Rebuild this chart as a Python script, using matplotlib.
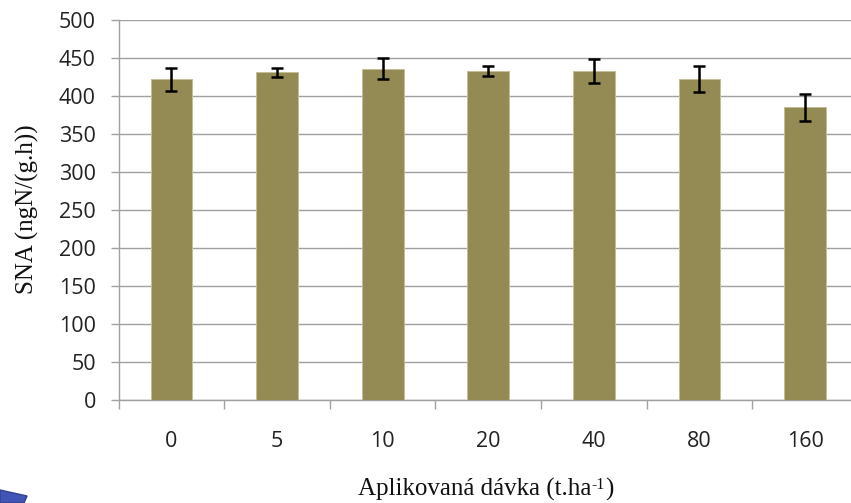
import matplotlib
matplotlib.use("Agg")
import matplotlib.pyplot as plt
from matplotlib.patches import Polygon

doses = ['0', '5', '10', '20', '40', '80', '160']
sna = [422, 431, 436, 433, 433, 422, 385]
err = [15, 5.5, 14, 6.5, 16, 17, 18]
y_ticks = [0, 50, 100, 150, 200, 250, 300, 350, 400, 450, 500]

W, H = 851, 503
BAR = '#948B54'
GREY = '#A0A0A0'

fig = plt.figure(figsize=(W / 100, H / 100), dpi=100)
ax = fig.add_axes([118.7 / W, 1 - 400 / H, (W - 118.7) / W, 380 / H])

x = list(range(len(doses)))
ax.bar(x, sna, width=0.395, color=BAR, edgecolor='#C4BE96', linewidth=0.7, zorder=3)
ax.errorbar(x, sna, yerr=err, fmt='none', ecolor='black', elinewidth=1.8,
            capsize=4.3, capthick=1.8, zorder=4)

ax.set_xlim(-0.5, 6.435)
ax.set_ylim(0, 500)
ax.set_yticks(y_ticks)
ax.set_xticks(x)
ax.set_xticklabels(doses)
ax.set_xticks([i - 0.5 for i in range(7)], minor=True)
ax.grid(True, axis='y', color=GREY, linewidth=1.0, zorder=0)
ax.set_axisbelow(True)

for s in ['top', 'right']:
    ax.spines[s].set_visible(False)
for s in ['left', 'bottom']:
    ax.spines[s].set_color(GREY)
    ax.spines[s].set_linewidth(1.0)

ax.tick_params(axis='y', length=5.5, width=1.0, color=GREY, labelsize=15.5,
               labelcolor='#222222', pad=11)
ax.tick_params(axis='x', which='major', length=0, labelsize=15.5,
               labelcolor='#222222', pad=22.5)
ax.tick_params(axis='x', which='minor', length=6.5, width=1.0, color=GREY)
for lab in ax.get_xticklabels() + ax.get_yticklabels():
    lab.set_family('Open Sans')

fig.text(27 / W, 1 - 209 / H, 'SNA (ngN/(g.h))', rotation=90, ha='center', va='center',
         family='Liberation Serif', fontsize=18, color='#111111')

# x label in pieces so the superscript keeps a plain hyphen
renderer = fig.canvas.get_renderer()
label = fig.text(358 / W, 1 - 496 / H, 'Aplikovaná dávka (t.ha', ha='left', va='baseline',
                 family='Liberation Serif', fontsize=18, color='#111111')
end = label.get_window_extent(renderer).x1
sup = fig.text(end / W, 1 - 489 / H, '-1', ha='left', va='baseline',
               family='Liberation Serif', fontsize=11.5, color='#111111')
end = sup.get_window_extent(renderer).x1
fig.text(end / W, 1 - 496 / H, ')', ha='left', va='baseline',
         family='Liberation Serif', fontsize=18, color='#111111')

# blue corner of the slide behind the chart
fig.add_artist(Polygon([(0, 1 - 490 / H), (27 / W, 1 - 496 / H), (24 / W, 0), (0, 0)],
                       closed=True, transform=fig.transFigure,
                       facecolor='#4055B5', edgecolor='#33418F', linewidth=1))

fig.savefig('out.png', dpi=100)
